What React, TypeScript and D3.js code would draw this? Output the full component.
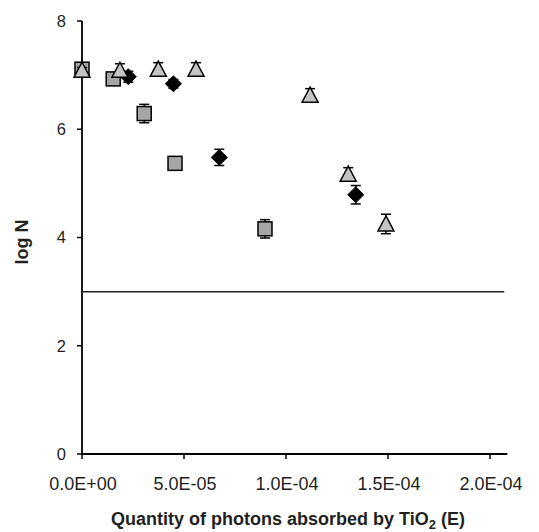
import React from "react";
import * as d3 from "d3";

const squareX = [0, 1.53e-5, 3.05e-5, 4.56e-5, 8.97e-5];
const squareY = [7.11, 6.93, 6.29, 5.37, 4.16];
const squareErr = [0.05, 0.05, 0.17, 0.05, 0.17];

const diamondX = [2.27e-5, 4.48e-5, 6.73e-5, 1.342e-4];
const diamondY = [6.97, 6.84, 5.48, 4.79];
const diamondErr = [0.1, 0.08, 0.15, 0.17];

const triangleX = [0, 1.86e-5, 3.74e-5, 5.59e-5, 1.118e-4, 1.305e-4, 1.49e-4];
const triangleY = [7.09, 7.09, 7.11, 7.11, 6.63, 5.17, 4.25];
const triangleErr = [0.05, 0.12, 0.12, 0.12, 0.12, 0.12, 0.18];

const xTicks = [0, 5e-5, 1e-4, 1.5e-4, 2e-4];
const xTickLabels = ["0.0E+00", "5.0E-05", "1.0E-04", "1.5E-04", "2.0E-04"];
const yTicks = [0, 2, 4, 6, 8];
const limitLine = { y: 3, x0: 0, x1: 2.07e-4 };

const W = 539;
const H = 532;
const FONT = "'Liberation Sans', Arial, sans-serif";

export default function App() {
  const x = d3.scaleLinear().domain([0, 2e-4]).range([82, 490]);
  const y = d3.scaleLinear().domain([0, 8]).range([454, 21]);
  const xMax = 2.085e-4;

  const errBar = (cx: number, cy: number, e: number, key: string) => (
    <g key={key} stroke="#000" strokeWidth={1.5}>
      <line x1={x(cx)} x2={x(cx)} y1={y(cy - e)} y2={y(cy + e)} />
      <line x1={x(cx) - 5} x2={x(cx) + 5} y1={y(cy - e)} y2={y(cy - e)} />
      <line x1={x(cx) - 5} x2={x(cx) + 5} y1={y(cy + e)} y2={y(cy + e)} />
    </g>
  );

  return (
    <svg
      width={W}
      height={H}
      style={{ position: "absolute", left: 0, top: 0, background: "#fff" }}
      fontFamily={FONT}
    >
      <rect width={W} height={H} fill="#fff" />
      {/* axes */}
      <line x1={x(0)} x2={x(0)} y1={y(8)} y2={y(0)} stroke="#000" strokeWidth={1.8} />
      <line x1={x(0)} x2={x(xMax)} y1={y(0)} y2={y(0)} stroke="#000" strokeWidth={1.8} />
      {yTicks.map((t) => (
        <g key={"yt" + t}>
          <line x1={x(0) - 5} x2={x(0)} y1={y(t)} y2={y(t)} stroke="#000" strokeWidth={1.5} />
          <text x={x(0) - 16} y={y(t)} dy="0.36em" textAnchor="end" fontSize={16.5} fill="#231f20">
            {t}
          </text>
        </g>
      ))}
      {xTicks.map((t, i) => (
        <g key={"xt" + t}>
          <line x1={x(t)} x2={x(t)} y1={y(0)} y2={y(0) + 5} stroke="#000" strokeWidth={1.5} />
          <text x={x(t) + 1} y={y(0) + 36} textAnchor="middle" fontSize={18} fill="#231f20">
            {xTickLabels[i]}
          </text>
        </g>
      ))}
      <text
        x={288}
        y={525}
        textAnchor="middle"
        fontSize={18}
        fontWeight="bold"
        fill="#231f20"
      >
        Quantity of photons absorbed by TiO
        <tspan fontSize={13} dy={4}>2</tspan>
        <tspan dy={-4}> (E)</tspan>
      </text>
      <text
        transform={`translate(28,${242}) rotate(-90)`}
        textAnchor="middle"
        fontSize={18}
        fontWeight="bold"
        fill="#231f20"
      >
        log N
      </text>
      {/* limit line */}
      <line
        x1={x(limitLine.x0)}
        x2={x(limitLine.x1)}
        y1={y(limitLine.y)}
        y2={y(limitLine.y)}
        stroke="#222"
        strokeWidth={1.5}
      />
      {/* squares */}
      {squareX.map((vx, i) => errBar(vx, squareY[i], squareErr[i], "se" + i))}
      {squareX.map((vx, i) => (
        <rect
          key={"s" + i}
          x={x(vx) - 7}
          y={y(squareY[i]) - 7}
          width={14}
          height={14}
          fill="#a6a6a6"
          stroke="#000"
          strokeWidth={1.5}
        />
      ))}
      {/* diamonds */}
      {diamondX.map((vx, i) => errBar(vx, diamondY[i], diamondErr[i], "de" + i))}
      {diamondX.map((vx, i) => {
        const cx = x(vx);
        const cy = y(diamondY[i]);
        return (
          <path
            key={"d" + i}
            d={`M${cx},${cy - 8}L${cx + 8},${cy}L${cx},${cy + 8}L${cx - 8},${cy}Z`}
            fill="#000"
            stroke="#000"
            strokeWidth={1}
          />
        );
      })}
      {/* triangles */}
      {triangleX.map((vx, i) => errBar(vx, triangleY[i], triangleErr[i], "te" + i))}
      {triangleX.map((vx, i) => {
        const cx = x(vx);
        const cy = y(triangleY[i]);
        return (
          <path
            key={"t" + i}
            d={`M${cx},${cy - 8}L${cx + 8},${cy + 7}L${cx - 8},${cy + 7}Z`}
            fill="#c4c4c4"
            stroke="#000"
            strokeWidth={1.5}
            strokeLinejoin="miter"
          />
        );
      })}
    </svg>
  );
}
